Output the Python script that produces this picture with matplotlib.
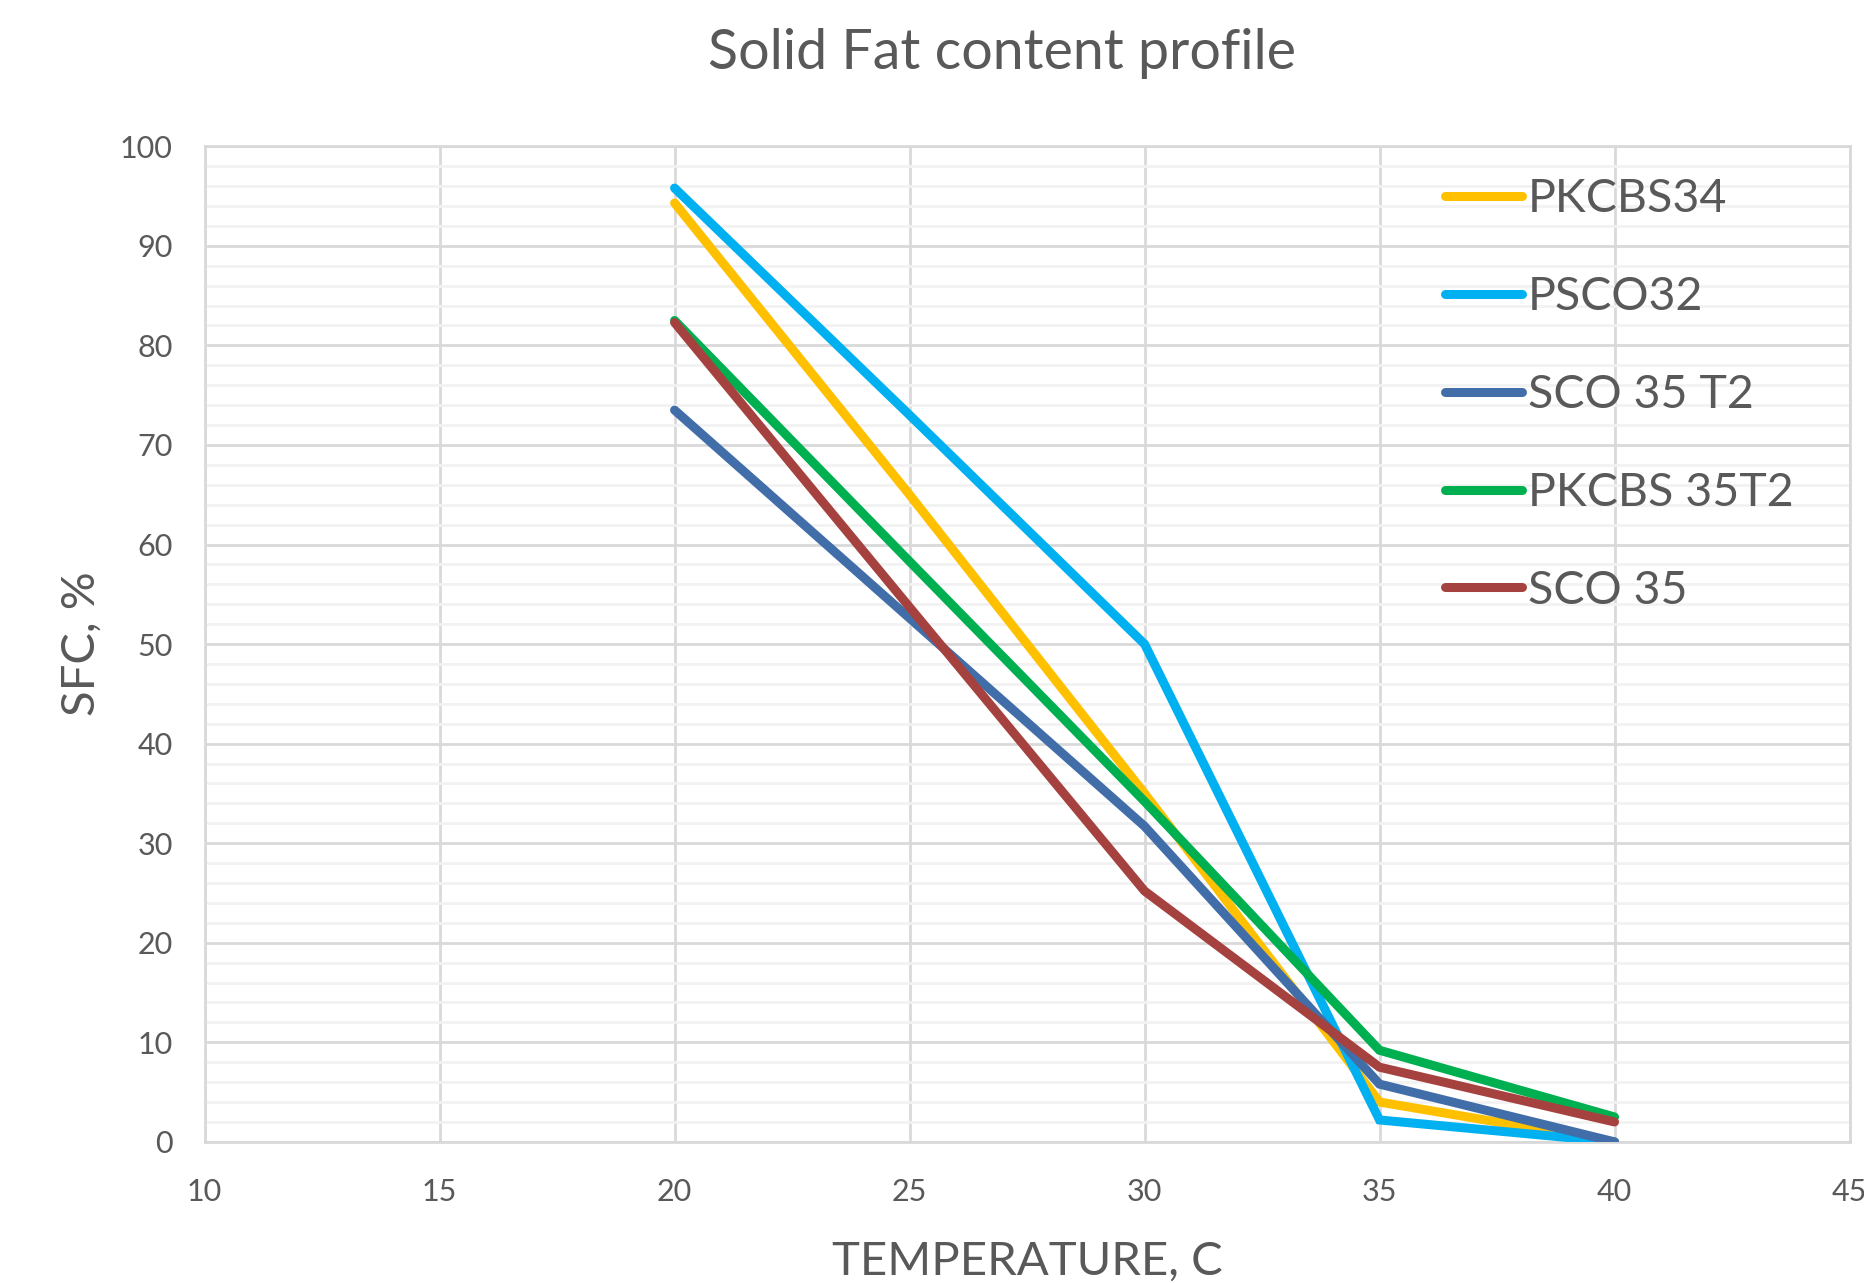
import matplotlib.pyplot as plt
from matplotlib.ticker import MultipleLocator

# --- Data ---
temperature = [20, 25, 30, 35, 40]
pkcbs34 = [94.3, 65.0, 35.0, 4.0, 0.0]
psco32 = [95.8, 73.0, 50.0, 2.2, 0.0]
sco35_t2 = [73.5, 52.6, 31.7, 5.8, 0.0]
pkcbs35t2 = [82.5, 58.3, 34.2, 9.2, 2.5]
sco35 = [82.3, 53.7, 25.2, 7.5, 2.0]

series_names = ["PKCBS34", "PSCO32", "SCO 35 T2", "PKCBS 35T2", "SCO 35"]
series_colors = ["#FFC000", "#00B0F0", "#416EA8", "#00B050", "#A5423F"]

TEXT = "#595959"
GRID = "#D9D9D9"

plt.rcParams['font.family'] = ['Lato', 'DejaVu Sans']

fig = plt.figure(figsize=(18.65, 12.83), dpi=100)
ax = fig.add_axes([0.1097, 0.110, 0.8820, 0.776])

for vals, name, col in zip([pkcbs34, psco32, sco35_t2, pkcbs35t2, sco35],
                           series_names, series_colors):
    ax.plot(temperature, vals, color=col, linewidth=6.5, label=name,
            solid_capstyle='round', solid_joinstyle='miter', zorder=3)

# --- Axes & grid ---
ax.set_xlim(10, 45)
ax.set_ylim(0, 100)
ax.xaxis.set_major_locator(MultipleLocator(5))
ax.yaxis.set_major_locator(MultipleLocator(10))
ax.yaxis.set_minor_locator(MultipleLocator(2))
ax.grid(True, which='major', color=GRID, linewidth=2, zorder=1)
ax.grid(True, which='minor', axis='y', color='#F2F2F2', linewidth=2, zorder=0)
for s in ax.spines.values():
    s.set_color(GRID)
    s.set_linewidth(2)
ax.tick_params(which='both', length=0, labelsize=22, colors=TEXT)
ax.tick_params(axis='y', pad=23)
ax.tick_params(axis='x', pad=26)

fig.text(0.537, 0.958, "Solid Fat content profile", fontsize=40, color=TEXT,
         ha='center', va='center')
ax.set_xlabel("TEMPERATURE, C", fontsize=34, color=TEXT, labelpad=25)
ax.set_ylabel("SFC, %", fontsize=34, color=TEXT, labelpad=12)

leg = ax.legend(loc='upper left', bbox_to_anchor=(0.775, 0.861),
                bbox_transform=fig.transFigure, frameon=False,
                fontsize=33.5, handlelength=1.65, handletextpad=0.12,
                labelspacing=1.2, borderpad=0, borderaxespad=0)
for t in leg.get_texts():
    t.set_color(TEXT)

plt.savefig("out.png", dpi=100)
plt.close()
